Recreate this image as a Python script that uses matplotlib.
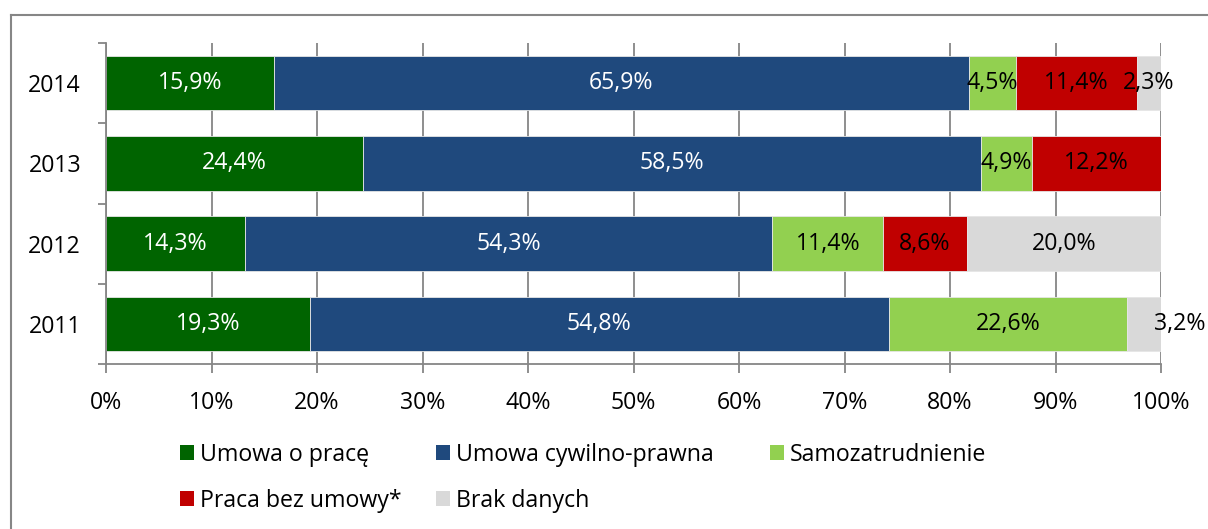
import numpy as np
import matplotlib
matplotlib.use("Agg")
import matplotlib.pyplot as plt
from matplotlib.lines import Line2D
from matplotlib.patches import Patch

plt.rcParams['font.family'] = ['Open Sans', 'DejaVu Sans']

# data (shares in %, as printed on the chart)
years = ['2011', '2012', '2013', '2014']
series = ['Umowa o pracę', 'Umowa cywilno-prawna', 'Samozatrudnienie',
          'Praca bez umowy*', 'Brak danych']
umowa_o_prace = [19.3, 14.3, 24.4, 15.9]
umowa_cp = [54.8, 54.3, 58.5, 65.9]
samozatrudnienie = [22.6, 11.4, 4.9, 4.5]
bez_umowy = [0.0, 8.6, 12.2, 11.4]
brak_danych = [3.2, 20.0, 0.0, 2.3]

colors = ['#006400', '#1F497D', '#92D050', '#C00000', '#D9D9D9']
text_colors = ['white', 'white', 'black', 'black', 'black']

values = np.array([umowa_o_prace, umowa_cp, samozatrudnienie, bez_umowy, brak_danych])
shares = values / values.sum(axis=0) * 100  # 100% stacked

W, H = 1208, 529
FS = 16.7
fig = plt.figure(figsize=(W / 100, H / 100), dpi=100)
ax = fig.add_axes([106 / W, 1 - 364 / H, (1161 - 106) / W, (364 - 43) / H])

gray = '#868686'
left = np.zeros(len(years))
for i, name in enumerate(series):
    bars = ax.barh(years, shares[i], left=left, height=0.677, color=colors[i],
                   edgecolor='#E6E6E6', linewidth=0.6, label=name, zorder=2)
    for j, b in enumerate(bars):
        if values[i, j] <= 0:
            continue
        cx = left[j] + shares[i, j] / 2
        dx = 0
        # small last segment of 2011 label was pushed outside the bar
        if years[j] == '2011' and name == 'Brak danych':
            dx = 26
        ax.annotate(f"{values[i, j]:.1f}".replace('.', ',') + '%',
                    (cx, b.get_y() + b.get_height() / 2), xytext=(dx, 0),
                    textcoords='offset points', ha='center', va='center',
                    fontsize=FS, color=text_colors[i], zorder=3,
                    annotation_clip=False)
    left += shares[i]

ax.set_xlim(0, 100)
ax.set_ylim(-0.5, 3.5)
ax.set_xticks(np.arange(0, 101, 10))
ax.set_xticklabels([f"{t}%" for t in range(0, 101, 10)])
ax.xaxis.grid(True, color=gray, linewidth=1.3, zorder=0)
ax.set_axisbelow(True)

ax.set_yticks(np.arange(-0.5, 4, 1), minor=True)
ax.tick_params(axis='y', which='major', length=0, pad=18, labelsize=FS)
ax.tick_params(axis='y', which='minor', length=6, width=1.3, color=gray)
ax.tick_params(axis='x', length=6.5, width=1.3, color=gray, pad=13, labelsize=FS)

for s in ['top', 'right']:
    ax.spines[s].set_visible(False)
for s in ['left', 'bottom']:
    ax.spines[s].set_color(gray)
    ax.spines[s].set_linewidth(1.3)

# legend entries placed like the original (two rows)
slots = [(180, 455), (436, 455), (770, 455), (180, 501), (436, 501)]
for i, name in enumerate(series):
    x, y = slots[i]
    fig.legend(handles=[Patch(facecolor=colors[i], edgecolor='none')], labels=[name],
               loc='center left', bbox_to_anchor=(x / W, 1 - y / H),
               frameon=False, fontsize=FS, handlelength=0.61, handleheight=0.61,
               handletextpad=0.26, borderpad=0, borderaxespad=0)

# outer chart border
fig.add_artist(Line2D([10.5 / W, 1], [1 - 14.5 / H, 1 - 14.5 / H],
                      transform=fig.transFigure, color=gray, linewidth=1.5))
fig.add_artist(Line2D([10.5 / W, 10.5 / W], [0, 1 - 14.5 / H],
                      transform=fig.transFigure, color=gray, linewidth=1.5))

fig.savefig('out.png', dpi=100)
